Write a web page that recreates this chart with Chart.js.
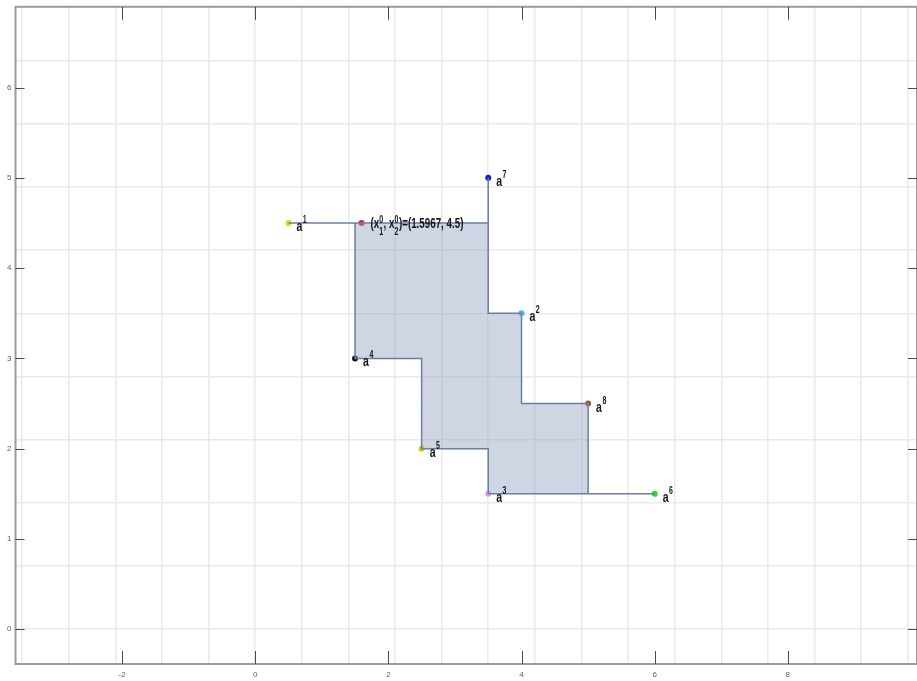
<!DOCTYPE html>
<html>
<head>
<meta charset="utf-8">
<script src="https://cdn.jsdelivr.net/npm/chart.js@4.4.1/dist/chart.umd.min.js"></script>
<style>
  html, body { margin: 0; padding: 0; background: #fff; overflow: hidden; }
  /* canvas is a bit bigger than the window: right edge of the frame sits at the border */
  #wrap { width: 921px; height: 683px; margin-top: -2px; }
</style>
</head>
<body>
<div id="wrap"><canvas id="plot"></canvas></div>
<script>
// Axis ticks and grid (grid is on a 0.7 step, ticks are not)
const xTicks = [-2, 0, 2, 4, 6, 8];
const yTicks = [0, 1, 2, 3, 4, 5, 6];
const xGrid = [-3.5, -2.8, -2.1, -1.4, -0.7, 0, 0.7, 1.4, 2.1, 2.8, 3.5, 4.2, 4.9, 5.6, 6.3, 7.0, 7.7, 8.4, 9.1, 9.8];
const yGrid = [0, 0.7, 1.4, 2.1, 2.8, 3.5, 4.2, 4.9, 5.6, 6.3];

// Shaded staircase region
const polyX = [1.5, 3.5, 3.5, 4, 4, 5, 5, 3.5, 3.5, 2.5, 2.5, 1.5, 1.5];
const polyY = [4.5, 4.5, 3.5, 3.5, 2.5, 2.5, 1.5, 1.5, 2, 2, 3, 3, 4.5];

// Extra edges out to the points
const leftEdgeX = [0.5, 1.5], leftEdgeY = [4.5, 4.5];
const topEdgeX = [3.5, 3.5], topEdgeY = [4.5, 5];
const rightEdgeX = [5, 6], rightEdgeY = [1.5, 1.5];

// Labelled points a^1 .. a^8
const ptIdx = ['1', '2', '3', '4', '5', '6', '7', '8'];
const ptX = [0.5, 4, 3.5, 1.5, 2.5, 6, 3.5, 5];
const ptY = [4.5, 3.5, 1.5, 3, 2, 1.5, 5, 2.5];
const ptColors = ['#ecd400', '#4fb6ea', '#ec96ec', '#111111', '#d8c400', '#1ee61e', '#1717e0', '#a5522e'];

// Starting point x^0
const startX = [1.5967];
const startY = [4.5];

const EDGE = '#6a7ea8';
const FONT = '"Liberation Sans", Arial, sans-serif';
const SX = 0.7; // text looks squeezed horizontally

const toPts = (xs, ys) => xs.map((x, i) => ({ x: x, y: ys[i] }));
const edgeSet = (xs, ys) => ({
    data: toPts(xs, ys), showLine: true, borderColor: EDGE, borderWidth: 1.5,
    pointRadius: 0, fill: false
});

// draws squeezed text, returns advance width
function sText(ctx, str, x, y, font) {
    ctx.font = font;
    ctx.save();
    ctx.translate(x, y);
    ctx.scale(SX, 1);
    ctx.fillText(str, 0, 0);
    ctx.restore();
    return ctx.measureText(str).width * SX;
}

const decorPlugin = {
    id: 'decor',
    afterDatasetsDraw(chart) {
        const { ctx, chartArea: a, scales } = chart;
        const xs = scales.x, ys = scales.y;
        ctx.save();
        // frame
        ctx.strokeStyle = '#9c9c9c';
        ctx.lineWidth = 2;
        ctx.strokeRect(a.left, a.top, a.right - a.left, a.bottom - a.top);
        // inward tick marks
        ctx.strokeStyle = '#4a4a4a';
        ctx.lineWidth = 1;
        ctx.beginPath();
        xTicks.forEach(v => {
            const px = Math.round(xs.getPixelForValue(v)) + 0.5;
            ctx.moveTo(px, a.bottom); ctx.lineTo(px, a.bottom - 13);
            ctx.moveTo(px, a.top); ctx.lineTo(px, a.top + 13);
        });
        yTicks.forEach(v => {
            const py = Math.round(ys.getPixelForValue(v)) + 0.5;
            ctx.moveTo(a.left, py); ctx.lineTo(a.left + 9, py);
            ctx.moveTo(a.right, py); ctx.lineTo(a.right - 9, py);
        });
        ctx.stroke();

        // point labels a^k
        ctx.fillStyle = '#151515';
        ctx.textBaseline = 'alphabetic';
        ctx.textAlign = 'left';
        ptIdx.forEach((k, i) => {
            const px = xs.getPixelForValue(ptX[i]);
            const py = ys.getPixelForValue(ptY[i]);
            const w = sText(ctx, 'a', px + 8, py + 8, 'bold 15px ' + FONT);
            sText(ctx, k, px + 8 + w + 0.5, py, 'bold 10px ' + FONT);
        });

        // (x_1^0, x_2^0)=(1.5967, 4.5)
        const main = 'bold 14px ' + FONT, small = 'bold 10px ' + FONT;
        let cx = xs.getPixelForValue(startX[0]) + 9;
        const base = ys.getPixelForValue(startY[0]) + 5;
        cx += sText(ctx, '(x', cx, base, main);
        sText(ctx, '1', cx, base + 7, small);
        cx += sText(ctx, '0', cx, base - 5, small) + 0.5;
        cx += sText(ctx, ', x', cx, base, main);
        sText(ctx, '2', cx, base + 7, small);
        cx += sText(ctx, '0', cx, base - 5, small) + 0.5;
        sText(ctx, ')=(1.5967, 4.5)', cx, base, main);
        ctx.restore();
    }
};

const tickFont = { family: FONT, size: 8 };
const tickColor = '#5a6178';

new Chart(document.getElementById('plot'), {
    type: 'scatter',
    data: {
        datasets: [
            {
                data: toPts(polyX, polyY), showLine: true,
                borderColor: EDGE, borderWidth: 1.5,
                backgroundColor: 'rgba(150, 162, 192, 0.45)',
                fill: 'shape', pointRadius: 0, tension: 0
            },
            edgeSet(leftEdgeX, leftEdgeY),
            edgeSet(topEdgeX, topEdgeY),
            edgeSet(rightEdgeX, rightEdgeY),
            {
                data: toPts(ptX, ptY), showLine: false,
                pointRadius: 3, pointBorderWidth: 0,
                pointBackgroundColor: ptColors, pointBorderColor: ptColors
            },
            {
                data: toPts(startX, startY), showLine: false,
                pointRadius: 3, pointBorderWidth: 0,
                pointBackgroundColor: '#e8202a', pointBorderColor: '#e8202a'
            }
        ]
    },
    options: {
        responsive: true,
        maintainAspectRatio: false,
        animation: false,
        events: [],
        layout: { padding: { top: 4, right: 0, left: 0, bottom: 0 } },
        plugins: { legend: { display: false }, tooltip: { enabled: false } },
        scales: {
            x: {
                type: 'linear', position: 'bottom', min: -3.6, max: 9.94,
                afterBuildTicks: s => { s.ticks = xTicks.map(v => ({ value: v })); },
                afterFit: s => { s.height = 17; },
                grid: { drawOnChartArea: false, drawTicks: false },
                border: { display: false },
                ticks: { font: tickFont, color: tickColor, padding: 6, maxRotation: 0 }
            },
            y: {
                type: 'linear', position: 'left', min: -0.385, max: 6.895,
                afterBuildTicks: s => { s.ticks = yTicks.map(v => ({ value: v })); },
                afterFit: s => { s.width = 15.5; },
                grid: { drawOnChartArea: false, drawTicks: false },
                border: { display: false },
                ticks: { font: tickFont, color: tickColor, padding: 4 }
            },
            xg: {
                type: 'linear', position: 'bottom', min: -3.6, max: 9.94,
                afterBuildTicks: s => { s.ticks = xGrid.map(v => ({ value: v })); },
                afterFit: s => { s.height = 0; },
                grid: { color: '#e9e9e9', lineWidth: 1.5, drawTicks: false },
                border: { display: false },
                ticks: { display: false }
            },
            yg: {
                type: 'linear', position: 'left', min: -0.385, max: 6.895,
                afterBuildTicks: s => { s.ticks = yGrid.map(v => ({ value: v })); },
                afterFit: s => { s.width = 0; },
                grid: { color: '#e9e9e9', lineWidth: 1.5, drawTicks: false },
                border: { display: false },
                ticks: { display: false }
            }
        }
    },
    plugins: [decorPlugin]
});
</script>
</body>
</html>
